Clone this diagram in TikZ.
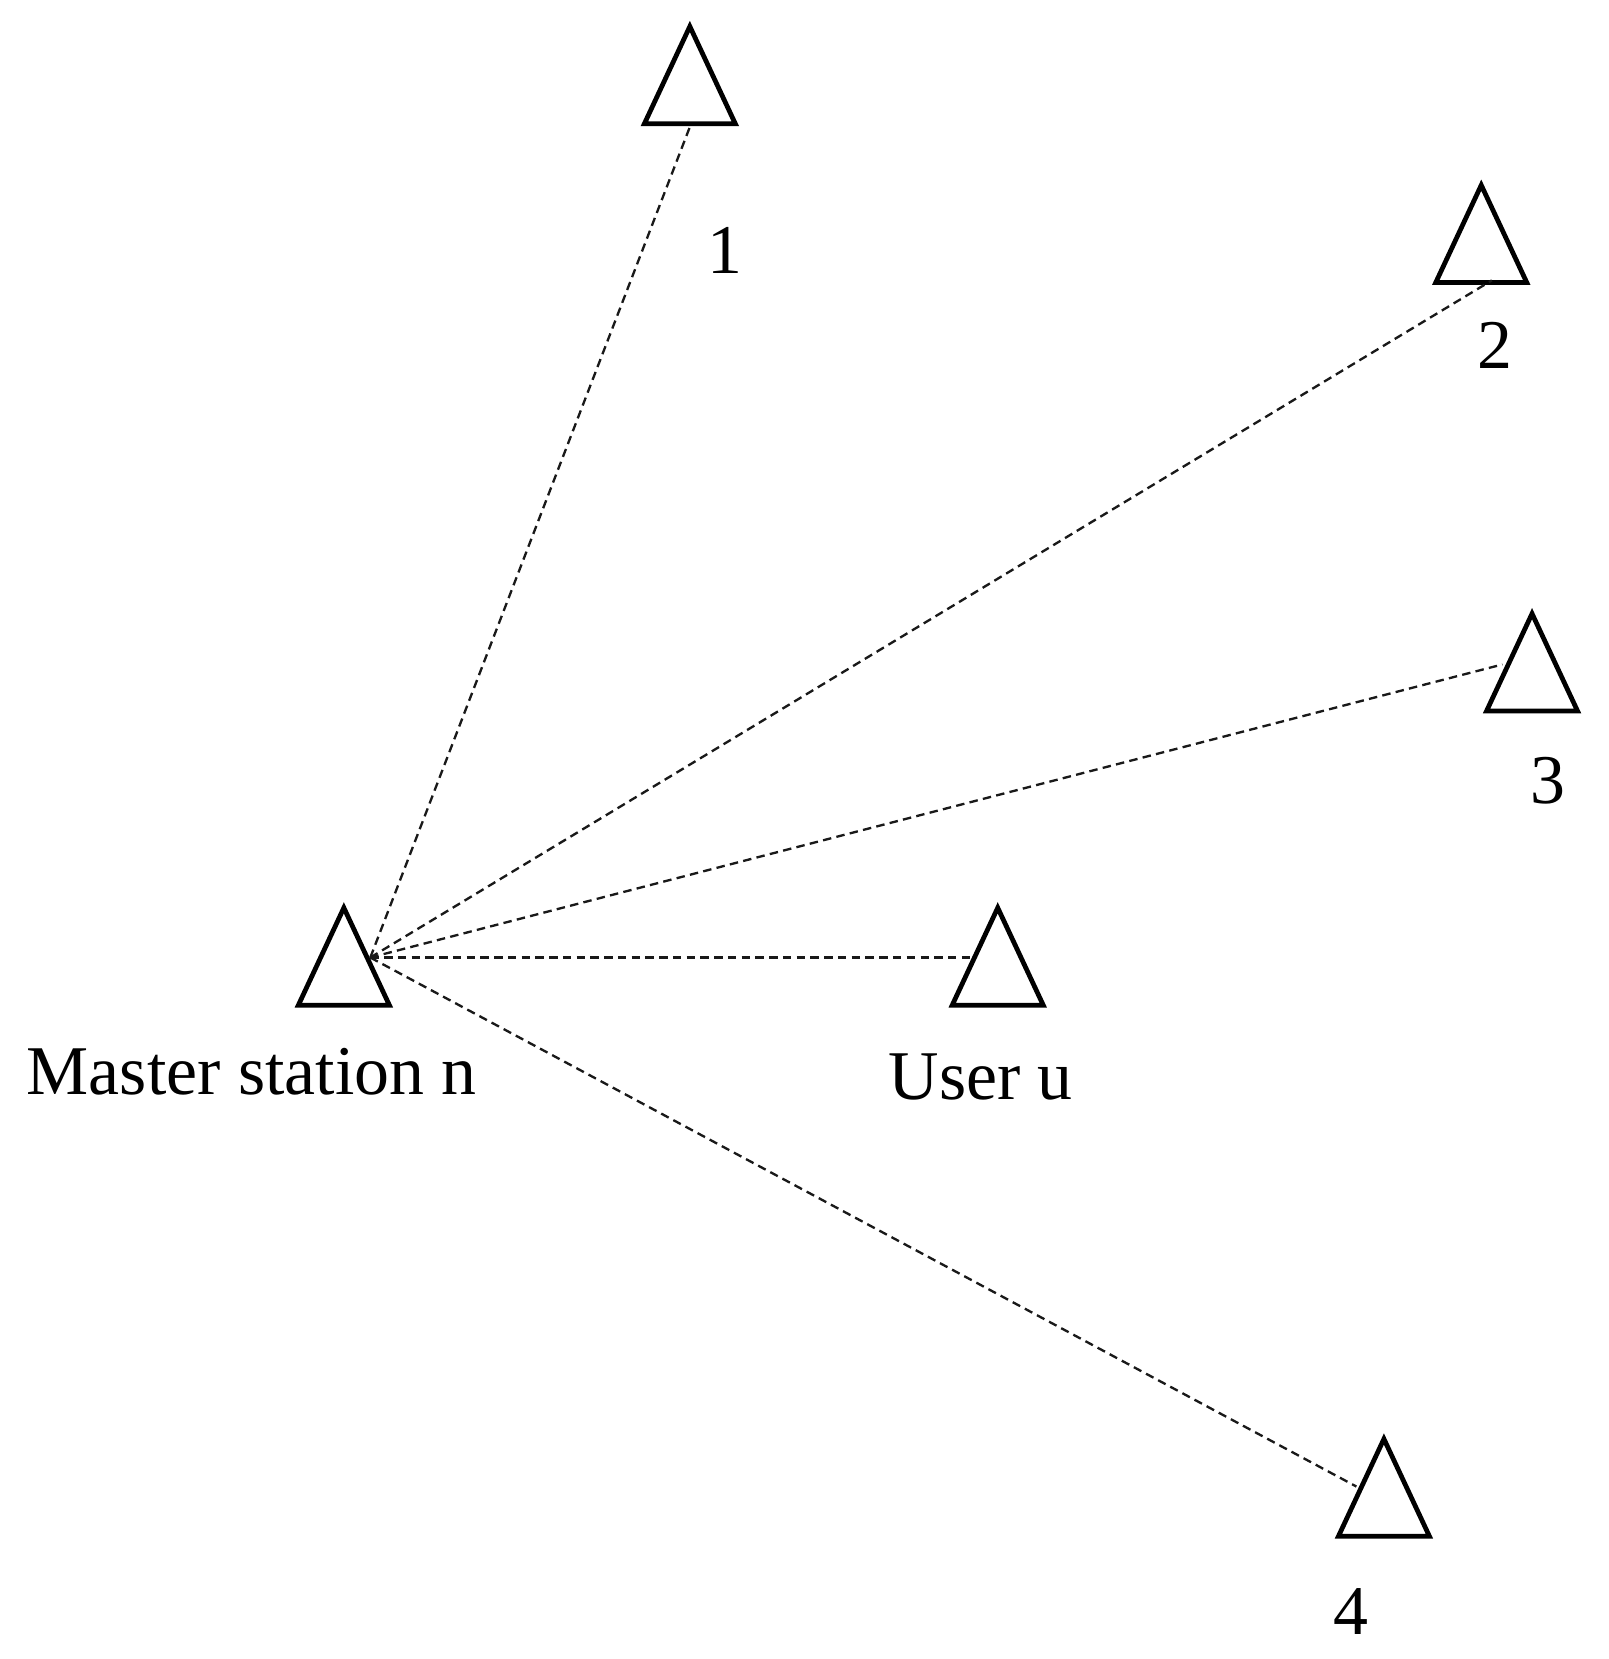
\documentclass[tikz,border=0pt]{standalone}
\usepackage{fontspec}
\setmainfont{Liberation Serif}
\begin{document}
\begin{tikzpicture}[x=1pt,y=-1pt,
  tri/.style={line width=4.5pt,line join=miter},
  link/.style={line width=2.2pt,dash pattern=on 8pt off 5pt,black!90},
  lab/.style={font=\fontsize{66}{68}\selectfont,inner sep=0pt}]
\useasboundingbox (0,0) rectangle (1520,1568);
\newcommand{\tri}[2]{\draw[tri] (#1-43,#2+92) -- (#1,#2) -- (#1+43,#2+92) -- cycle;}
\tri{652}{25}\tri{1400}{175}\tri{1448}{580}\tri{325}{858}\tri{943}{858}\tri{1308}{1360}
\coordinate (m) at (350,905);
\coordinate (a1) at (652,120);
\coordinate (a2) at (1410,265);
\coordinate (a3) at (1420,628);
\coordinate (u) at (920,905);
\coordinate (a4) at (1282,1405);
\foreach \t in {a1,a2,a3,u,a4} \draw[link] (m) -- (\t);
\node[lab] (l1) at (685,237) {1};
\node[lab] (l2) at (1413,326) {2};
\node[lab] (l3) at (1463,738) {3};
\node[lab] (lm) at (238,1013) {Master station n};
\node[lab] (lu) at (927,1018) {User u};
\node[lab] (l4) at (1277,1523) {4};
\end{tikzpicture}
\end{document}
